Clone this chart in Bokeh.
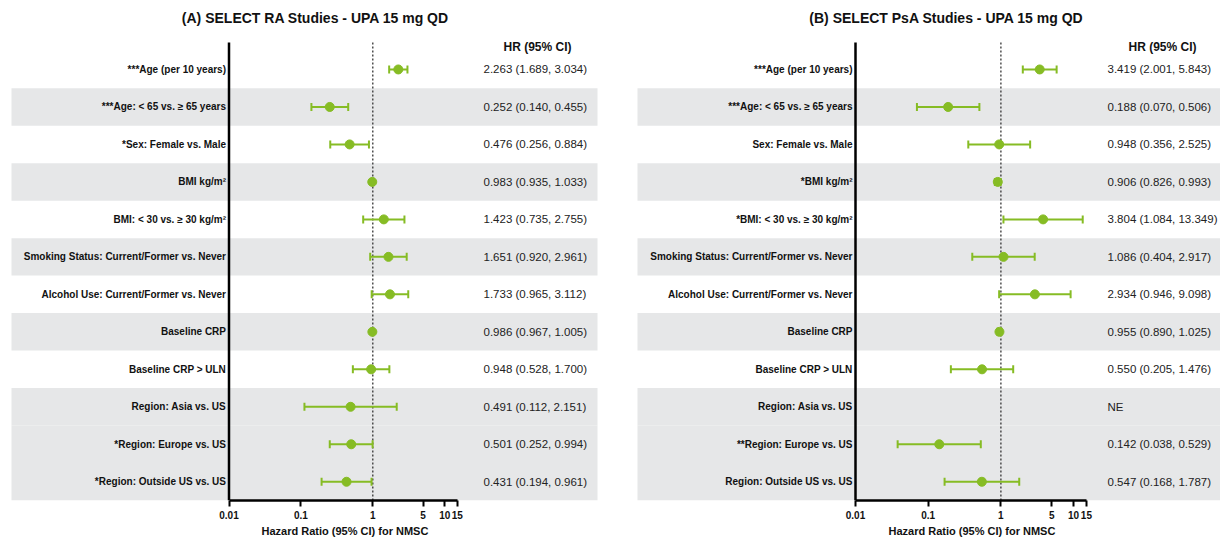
import math
import numpy as np
from bokeh.plotting import figure
from bokeh.layouts import row
from bokeh.models import Range1d, FixedTicker, CustomJSTickFormatter, ColumnDataSource, Title
from bokeh.core.properties import value
from bokeh.embed import file_html
from bokeh.resources import INLINE

# ---------------- data ----------------
title_a = "(A) SELECT RA Studies - UPA 15 mg QD"
labels_a = [
    "***Age (per 10 years)",
    "***Age: < 65 vs. \u2265 65 years",
    "*Sex: Female vs. Male",
    "BMI kg/m\u00b2",
    "BMI: < 30 vs. \u2265 30 kg/m\u00b2",
    "Smoking Status: Current/Former vs. Never",
    "Alcohol Use: Current/Former vs. Never",
    "Baseline CRP",
    "Baseline CRP > ULN",
    "Region: Asia vs. US",
    "*Region: Europe vs. US",
    "*Region: Outside US vs. US",
]
hr_a = [2.263, 0.252, 0.476, 0.983, 1.423, 1.651, 1.733, 0.986, 0.948, 0.491, 0.501, 0.431]
lo_a = [1.689, 0.140, 0.256, 0.935, 0.735, 0.920, 0.965, 0.967, 0.528, 0.112, 0.252, 0.194]
hi_a = [3.034, 0.455, 0.884, 1.033, 2.755, 2.961, 3.112, 1.005, 1.700, 2.151, 0.994, 0.961]

title_b = "(B) SELECT PsA Studies - UPA 15 mg QD"
labels_b = [
    "***Age (per 10 years)",
    "***Age: < 65 vs. \u2265 65 years",
    "Sex: Female vs. Male",
    "*BMI kg/m\u00b2",
    "*BMI: < 30 vs. \u2265 30 kg/m\u00b2",
    "Smoking Status: Current/Former vs. Never",
    "Alcohol Use: Current/Former vs. Never",
    "Baseline CRP",
    "Baseline CRP > ULN",
    "Region: Asia vs. US",
    "**Region: Europe vs. US",
    "Region: Outside US vs. US",
]
NE = float("nan")
hr_b = [3.419, 0.188, 0.948, 0.906, 3.804, 1.086, 2.934, 0.955, 0.550, NE, 0.142, 0.547]
lo_b = [2.001, 0.070, 0.356, 0.826, 1.084, 0.404, 0.946, 0.890, 0.205, NE, 0.038, 0.168]
hi_b = [5.843, 0.506, 2.525, 0.993, 13.349, 2.917, 9.098, 1.025, 1.476, NE, 0.529, 1.787]

shaded_rows = [1, 3, 5, 7, 9, 10, 11]
x_ticks = [0.01, 0.1, 1, 5, 10, 15]
x_title = "Hazard Ratio (95% CI) for NMSC"
hr_header = "HR (95% CI)"

# ---------------- style ----------------
GREEN = "#86BC24"
BAND = "#E6E7E8"
FONT = "Liberation Sans"
FIG_H = 537
ROW_PX = 37.5
ROW1_PX = 69.0  # page y of first row centre


def fmt(h, l, u):
    if isinstance(h, float) and math.isnan(h):
        return "NE"
    return f"{h:.3f} ({l:.3f}, {u:.3f})"


def panel(title, labels, hr, lo, hi, width, fig_left, axis_px, decade_px,
          band_l, band_r, hr_px, head_px, title_px, xtitle_px):
    def X(px):
        return 10 ** (-2 + (px - axis_px) / decade_px)

    n = len(labels)
    y_top = -(ROW1_PX - 0) / ROW_PX
    p = figure(width=width, height=FIG_H, x_axis_type="log",
               x_range=Range1d(X(fig_left), X(fig_left + width)),
               y_range=Range1d(n - 0.5, y_top),
               output_backend="svg", toolbar_location=None, title=None,
               y_axis_location=None, min_border=0, min_border_bottom=36)
    p.outline_line_color = None
    p.grid.visible = False
    p.background_fill_color = "white"
    p.border_fill_color = "white"

    ys = list(range(n))
    # bands
    p.quad(left=X(band_l), right=X(band_r),
           top=[i - 0.5 for i in shaded_rows], bottom=[i + 0.5 for i in shaded_rows],
           fill_color=BAND, line_color=None)

    line_top = -(ROW1_PX - 42) / ROW_PX
    # reference line at HR = 1
    p.segment(x0=[1], y0=[line_top], x1=[1], y1=[n - 0.5],
              line_color="#333333", line_width=1.3, line_dash="2 2")
    # vertical axis line
    p.segment(x0=[x_ticks[0]], y0=[line_top], x1=[x_ticks[0]], y1=[n - 0.5],
              line_color="black", line_width=2.5)

    src = ColumnDataSource(dict(y=ys, hr=hr, lo=lo, hi=hi, label=labels,
                                txt=[fmt(h, l, u) for h, l, u in zip(hr, lo, hi)]))
    p.segment(x0="lo", y0="y", x1="hi", y1="y", source=src,
              line_color=GREEN, line_width=2)
    for col in ("lo", "hi"):
        p.scatter(x=col, y="y", source=src, marker="dash", angle=math.pi / 2,
                  size=8, line_color=GREEN, line_width=2)
    p.scatter(x="hr", y="y", source=src, size=9, fill_color=GREEN, line_color=GREEN)

    # category labels
    p.text(x=x_ticks[0], y="y", text="label", source=src, x_offset=-3,
           text_align="right", text_baseline="middle",
           text_font=value(FONT), text_font_size="10px", text_font_style="bold",
           text_color="#111111")
    # HR text
    p.text(x=X(hr_px), y="y", text="txt", source=src,
           text_align="left", text_baseline="middle",
           text_font=value(FONT), text_font_size="11.5px", text_color="#222222")
    # header
    p.text(x=[X(head_px)], y=[0], text=[hr_header], y_offset=-22,
           text_align="center", text_baseline="middle",
           text_font=value(FONT), text_font_size="12px", text_font_style="bold",
           text_color="#111111")
    # title
    p.text(x=[X(title_px)], y=[0], text=[title], y_offset=-51,
           text_align="center", text_baseline="middle",
           text_font=value(FONT), text_font_size="14px", text_font_style="bold",
           text_color="#111111")

    ax = p.xaxis[0]
    ax.bounds = (x_ticks[0], x_ticks[-1])
    ax.ticker = FixedTicker(ticks=x_ticks, minor_ticks=[])
    ax.formatter = CustomJSTickFormatter(code="return String(tick);")
    ax.axis_line_width = 2.5
    ax.axis_line_color = "black"
    ax.major_tick_line_width = 2
    ax.major_tick_line_color = "black"
    ax.major_tick_out = 6
    ax.major_tick_in = 0
    ax.minor_tick_line_color = None
    ax.major_label_standoff = 4
    ax.major_label_text_font = FONT
    ax.major_label_text_font_size = "10px"
    ax.major_label_text_font_style = "bold"
    ax.major_label_text_color = "#111111"

    # axis title placed under the axis bounds (0.01 .. 15)
    p.add_layout(Title(text=x_title, align="left", offset=xtitle_px - fig_left,
                       standoff=2, text_font=FONT, text_font_size="11px",
                       text_font_style="bold", text_color="#111111"), "below")
    return p


pa = panel(title_a, labels_a, hr_a, lo_a, hi_a, width=612, fig_left=0,
           axis_px=228.5, decade_px=71.9, band_l=11, band_r=597,
           hr_px=483, head_px=537, title_px=315, xtitle_px=261)
pb = panel(title_b, labels_b, hr_b, lo_b, hi_b, width=608, fig_left=612,
           axis_px=855, decade_px=72.7, band_l=637, band_r=1220,
           hr_px=1107, head_px=1162, title_px=946, xtitle_px=888)

layout = row(pa, pb)
open("out.html", "w").write(file_html(layout, INLINE))
